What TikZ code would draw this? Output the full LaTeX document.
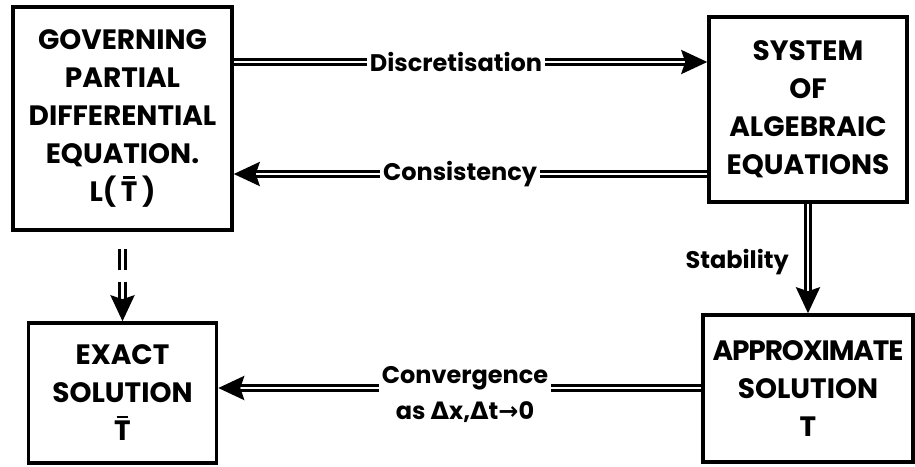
\documentclass[tikz,border=0pt]{standalone}
\usepackage{fontspec}
\setmainfont{Poppins}
\newfontfamily\dv{DejaVu Sans}
\usetikzlibrary{arrows.meta}
\tikzset{
  box/.style={draw, line width=3.5pt, inner sep=0pt, align=center,
    font=\fontsize{28}{38}\selectfont\bfseries},
  lbl/.style={inner sep=3pt, font=\fontsize{24}{36}\selectfont\bfseries, align=center},
  dbl/.style={draw, line width=3pt, double, double distance=2.5pt},
  tip/.style={-{Stealth[length=26pt,width=24pt,inset=4pt]}}
}
\newcommand\Tbar{\setbox0\hbox{T}\rlap{\hbox to\wd0{\hss\raisebox{\dimexpr\ht0+3pt\relax}{\rule{0.7\wd0}{2.4pt}}\hss}}\box0}
\begin{document}
\begin{tikzpicture}[x=1pt,y=-1pt]
\useasboundingbox (0,0) rectangle (915,466);
% boxes
\node[box, minimum width=219pt, minimum height=223pt] (gov) at (122.5,118.5)
  {GOVERNING\\PARTIAL\\DIFFERENTIAL\\EQUATION.\\L(\,\Tbar\,)};
\node[box, minimum width=198pt, minimum height=185pt] (sys) at (808,109.5)
  {SYSTEM\\OF\\ALGEBRAIC\\EQUATIONS};
\node[box, minimum width=210pt, minimum height=147pt] (apx) at (808,388.5)
  {{\addfontfeature{LetterSpace=-4}APPROXIMATE}\\SOLUTION\\T};
\node[box, minimum width=188pt, minimum height=140pt] (ext) at (122.5,393)
  {EXACT\\SOLUTION\\\Tbar};
% labels
\node[lbl] (disc) at (456,62) {Discretisation};
\node[lbl] (cons) at (460,174) {Consistency};
\node[lbl, anchor=east] (stab) at (792,262) {Stability};
\node[lbl] (conv) at (465,395) {Convergence\\as {\dv Δ}x,{\dv Δ}t{\dv →}0};
\coordinate (cvy) at (0,388);
% connectors
\draw[dbl] (gov.east |- disc) -- (disc.west);
\draw[dbl, tip] (disc.east) -- (sys.west |- disc);
\draw[dbl] (sys.west |- cons) -- (cons.east);
\draw[dbl, tip] (cons.west) -- (gov.east |- cons);
\draw[dbl, tip] (sys.south) -- (apx.north);
\draw[dbl] (apx.west |- cvy) -- (conv.east |- cvy);
\draw[dbl, tip] (conv.west |- cvy) -- (ext.east |- cvy);
\draw[dbl, shorten <=17pt, shorten >=51pt] (gov.south) -- (ext.north);
\draw[dbl, tip, shorten <=50pt] (gov.south) -- (ext.north);
\end{tikzpicture}
\end{document}
